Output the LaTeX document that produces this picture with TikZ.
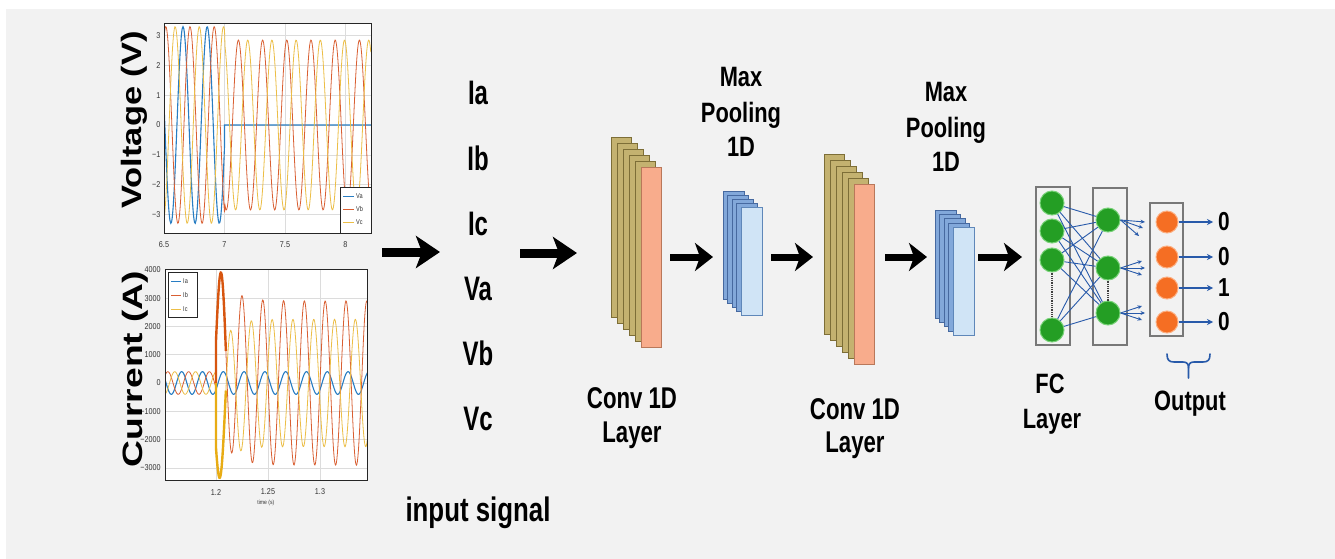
\documentclass[tikz,border=0pt]{standalone}
\usepackage{fontspec}
\setmainfont{Liberation Sans}
\usetikzlibrary{arrows.meta,calc}
\definecolor{bgc}{RGB}{242,242,242}
\definecolor{mblue}{RGB}{40,125,195}
\definecolor{mred}{RGB}{217,95,50}
\definecolor{myel}{RGB}{236,190,70}
\definecolor{gridc}{RGB}{220,220,220}
\definecolor{olivef}{RGB}{196,178,112}
\definecolor{olived}{RGB}{125,110,55}
\definecolor{salf}{RGB}{248,172,140}
\definecolor{sald}{RGB}{185,120,90}
\definecolor{poolb}{RGB}{130,168,218}
\definecolor{poolbd}{RGB}{70,105,160}
\definecolor{poolf}{RGB}{208,228,246}
\definecolor{poolfd}{RGB}{95,135,185}
\definecolor{fcg}{RGB}{36,158,36}
\definecolor{fcge}{RGB}{120,210,120}
\definecolor{outo}{RGB}{245,110,35}
\definecolor{outoe}{RGB}{252,175,130}
\definecolor{netb}{RGB}{40,90,170}
\definecolor{boxg}{RGB}{120,120,120}
\definecolor{spkred}{RGB}{215,85,15}
\definecolor{spkyel}{RGB}{232,172,20}
\newcommand{\cnd}[2][0.75]{\scalebox{#1}[1]{#2}}
\tikzset{
  sigtxt/.style={font=\bfseries\fontsize{34}{34}\selectfont, anchor=base, inner sep=0pt},
  laytxt/.style={font=\bfseries\fontsize{30}{30}\selectfont, anchor=base, inner sep=0pt},
  pooltxt/.style={font=\bfseries\fontsize{28}{28}\selectfont, anchor=base, inner sep=0pt},
  digtxt/.style={font=\bfseries\fontsize{26}{26}\selectfont, inner sep=0pt},
  axlbl/.style={font=\bfseries\fontsize{28}{28}\selectfont, rotate=90, anchor=base, inner sep=0pt},
  ticklbl/.style={font=\fontsize{8.5}{9}\selectfont, text=black!80, inner sep=1pt},
  leglbl/.style={font=\fontsize{7}{7}\selectfont, text=black!80, inner sep=0pt, anchor=west},
  bigarrow/.style={line width=9pt, -{Stealth[length=24pt,width=32pt,inset=6pt]}},
  midarrow/.style={line width=7pt, -{Stealth[length=18pt,width=28pt,inset=5pt]}},
  convback/.style={draw=olived, fill=olivef, line width=0.8pt, minimum width=20pt, minimum height=180pt, inner sep=0pt},
  convfront/.style={draw=sald, fill=salf, line width=0.8pt, minimum width=20pt, minimum height=180pt, inner sep=0pt},
  poolback/.style={draw=poolbd, fill=poolb, line width=0.8pt, minimum width=21pt, minimum height=108pt, inner sep=0pt},
  poolfront/.style={draw=poolfd, fill=poolf, line width=0.8pt, minimum width=21pt, minimum height=108pt, inner sep=0pt},
  fcbox/.style={draw=boxg, line width=1.6pt, inner sep=0pt},
  fcn/.style={circle, fill=fcg, draw=fcge, line width=1pt, minimum size=24pt, inner sep=0pt},
  outn/.style={circle, fill=outo, draw=outoe, line width=1pt, minimum size=22pt, inner sep=0pt},
  netline/.style={netb, line width=0.9pt},
  fanarrow/.style={netb, line width=0.9pt, -{Stealth[length=4.5pt,width=4pt]}},
  outarrow/.style={netb, line width=1.3pt, -{Stealth[length=6pt,width=6pt]}},
  dotline/.style={black!75, line width=1.3pt, dash pattern=on 0.9pt off 0.9pt},
  bracestyle/.style={netb, line width=1.6pt, line cap=round, line join=round},
}
\begin{document}
\begin{tikzpicture}[x=1pt,y=1pt]
\useasboundingbox (0,0) rectangle (1335,-559);
\fill[white] (0,0) rectangle (1335,-559);
\fill[bgc] (6,-9) rectangle (1335,-559);

% ================= Voltage plot =================
\begin{scope}[shift={(164pt,-125pt)}, x=121pt, y=29.8pt]
  \fill[white] (0,-3.624) rectangle (1.711,3.423);
  \foreach \t in {0.5,1,1.5} \draw[gridc, line width=0.6pt] (\t,-3.624) -- (\t,3.423);
  \foreach \v in {-3,-2,-1,0,1,2,3} \draw[gridc, line width=0.6pt] (0,\v) -- (1.711,\v);
  \begin{scope}
    \clip (0,-3.624) rectangle (1.711,3.423);
    \draw[mblue, line width=1.1pt] plot[domain=0:0.5, samples=90, smooth] (\x,{3.3*cos(1800*(\x-0.157))}) -- (0.5,0) -- (1.711,0);
    \draw[mred, line width=0.8pt] plot[domain=0:1.711, samples=360] (\x,{ifthenelse(\x<0.5,3.3,2.85)*cos(1800*(\x-0.015))});
    \draw[myel, line width=0.8pt] plot[domain=0:1.711, samples=360] (\x,{ifthenelse(\x<0.5,3.3,2.85)*cos(1800*(\x-0.092))});
  \end{scope}
  \draw[black!85, line width=0.7pt] (0,-3.624) rectangle (1.711,3.423);
  \foreach \v/\l [count=\i] in {3/3,2/2,1/1,0/0,-1/−1,-2/−2,-3/−3}
    \node[ticklbl, anchor=east] (vy\i) at (-0.02,\v) {\cnd[0.85]{\l}};
  \foreach \t/\l [count=\i] in {0/6.5,0.5/7,1/7.5,1.5/8}
    \node[ticklbl] (vx\i) at (\t,-4.0) {\cnd[0.85]{\l}};
\end{scope}
% voltage legend
\draw[black!85, fill=white, line width=0.6pt] (340,-187) rectangle (371,-233);
\draw[mblue, line width=1pt] (343,-196) -- (354,-196);
\draw[mred, line width=1pt] (343,-209) -- (354,-209);
\draw[myel, line width=1pt] (343,-222) -- (354,-222);
\node[leglbl] (lva) at (356,-196) {\cnd[0.8]{Va}};
\node[leglbl] (lvb) at (356,-209) {\cnd[0.8]{Vb}};
\node[leglbl] (lvc) at (356,-222) {\cnd[0.8]{Vc}};
\node[axlbl] (vlab) at (141,-120) {\scalebox{1.23}[1]{Voltage (V)}};

% ================= Current plot (time in ms from 1.2 s) =================
\begin{scope}[shift={(216pt,-383pt)}, x=1.04pt, y=0.0283pt]
  \fill[white] (-49,-3428) rectangle (146,4028);
  \foreach \t in {0,50,100} \draw[gridc, line width=0.6pt] (\t,-3428) -- (\t,4028);
  \foreach \v in {-3000,-2000,-1000,0,1000,2000,3000,4000} \draw[gridc, line width=0.6pt] (-49,\v) -- (146,\v);
  \begin{scope}
    \clip (-49,-3428) rectangle (146,4028);
    \draw[mblue, line width=1.1pt] plot[domain=-49:146, samples=320] (\x,{400*cos(18*(\x-7))});
    \draw[mred, line width=0.8pt] plot[domain=-49:0, samples=70] (\x,{400*cos(18*(\x-13.67))})
       -- plot[domain=0:146, samples=320] (\x,{2900*sin(18*\x)+1500*exp(-\x/12)});
    \draw[myel, line width=0.8pt] plot[domain=-49:0, samples=70] (\x,{400*cos(18*(\x-0.33))})
       -- plot[domain=0:146, samples=320] (\x,{-2250*sin(18*(\x+1))-1600*exp(-\x/10)});
    \draw[spkred, line width=2.4pt] (0,0) -- plot[domain=0:9.5, samples=30] (\x,{2900*sin(18*\x)+1500*exp(-\x/12)});
    \draw[spkyel, line width=2.4pt] (0,0) -- plot[domain=0:9.5, samples=30] (\x,{-2250*sin(18*(\x+1))-1600*exp(-\x/10)});
  \end{scope}
  \draw[black!85, line width=0.7pt] (-49,-3428) rectangle (146,4028);
  \foreach \v/\l [count=\i] in {4000/4000,3000/3000,2000/2000,1000/1000,0/0,-1000/−1000,-2000/−2000,-3000/−3000}
    \node[ticklbl, anchor=east] (cy\i) at (-52,\v) {\cnd[0.85]{\l}};
  \foreach \t/\l [count=\i] in {0/1.2,50/1.25,100/1.3}
    \node[ticklbl] (cx\i) at (\t,-3852) {\cnd[0.85]{\l}};
  \node[ticklbl, font=\fontsize{6}{6}\selectfont] (tlab) at (48,-4240) {\cnd[0.85]{time (s)}};
\end{scope}
% current legend
\draw[black!85, fill=white, line width=0.6pt] (168,-272) rectangle (197,-317);
\draw[mblue, line width=1pt] (171,-281) -- (181,-281);
\draw[mred, line width=1pt] (171,-295) -- (181,-295);
\draw[myel, line width=1pt] (171,-309) -- (181,-309);
\node[leglbl] (lia) at (183,-281) {\cnd[0.8]{Ia}};
\node[leglbl] (lib) at (183,-295) {\cnd[0.8]{Ib}};
\node[leglbl] (lic) at (183,-309) {\cnd[0.8]{Ic}};
\node[axlbl] (clab) at (142,-369) {\scalebox{1.33}[1]{Current (A)}};

% ================= input signal =================
\node[sigtxt] (sia) at (478,-105) {\cnd[0.705]{Ia}};
\node[sigtxt] (sib) at (478,-170) {\cnd[0.705]{Ib}};
\node[sigtxt] (sic) at (478,-235) {\cnd[0.705]{Ic}};
\node[sigtxt] (sva) at (478,-300) {\cnd[0.705]{Va}};
\node[sigtxt] (svb) at (478,-365) {\cnd[0.705]{Vb}};
\node[sigtxt] (svc) at (478,-430) {\cnd[0.705]{Vc}};
\node[sigtxt] (sig) at (478,-521) {\cnd[0.76]{input signal}};

% ================= layers =================
\foreach \k in {5,4,3,2,1} \node[convback] (c1b\k) at ({651-6*\k},{-257+6*\k}) {};
\node[convfront] (conv1) at (651,-257) {};
\foreach \k in {4,3,2,1} \node[poolback] (p1b\k) at ({751.5-4.5*\k},{-261+4*\k}) {};
\node[poolfront] (pool1) at (751.5,-261) {};
\foreach \k in {5,4,3,2,1} \node[convback] (c2b\k) at ({864-6*\k},{-274.5+6*\k}) {};
\node[convfront] (conv2) at (864,-274.5) {};
\foreach \k in {4,3,2,1} \node[poolback] (p2b\k) at ({963.5-4.4*\k},{-281.5+4.4*\k}) {};
\node[poolfront] (pool2) at (963.5,-281.5) {};

\node[laytxt] (cl1a) at (632,-408) {\cnd[0.74]{Conv 1D}};
\node[laytxt] (cl1b) at (632,-442) {\cnd[0.74]{Layer}};
\node[laytxt] (cl2a) at (855,-419) {\cnd[0.74]{Conv 1D}};
\node[laytxt] (cl2b) at (855,-452) {\cnd[0.74]{Layer}};
\node[pooltxt] (mp1a) at (741,-87) {\cnd[0.78]{Max}};
\node[pooltxt] (mp1b) at (741,-122) {\cnd[0.78]{Pooling}};
\node[pooltxt] (mp1c) at (741,-157) {\cnd[0.78]{1D}};
\node[pooltxt] (mp2a) at (946,-102) {\cnd[0.78]{Max}};
\node[pooltxt] (mp2b) at (946,-137) {\cnd[0.78]{Pooling}};
\node[pooltxt] (mp2c) at (946,-171) {\cnd[0.78]{1D}};

% ================= arrows =================
\coordinate (a1s) at (382,-252); \coordinate (a1e) at (440,-252);
\coordinate (a2s) at (520,-253); \coordinate (a2e) at (577,-253);
\coordinate (a3s) at (670,-257); \coordinate (a3e) at (713,-257);
\coordinate (a4s) at (771,-257); \coordinate (a4e) at (813,-257);
\coordinate (a5s) at (885,-257); \coordinate (a5e) at (927,-257);
\coordinate (a6s) at (978,-257); \coordinate (a6e) at (1022,-257);
\draw[bigarrow] (a1s) -- (a1e);
\draw[bigarrow] (a2s) -- (a2e);
\draw[midarrow] (a3s) -- (a3e);
\draw[midarrow] (a4s) -- (a4e);
\draw[midarrow] (a5s) -- (a5e);
\draw[midarrow] (a6s) -- (a6e);

% ================= FC layers =================
\node[fcbox, minimum width=34pt, minimum height=158pt] (box1) at (1053,-266) {};
\node[fcbox, minimum width=34pt, minimum height=157pt] (box2) at (1110,-266.5) {};
\node[fcbox, minimum width=33pt, minimum height=133pt] (box3) at (1166.5,-269.5) {};
\node[fcn] (f1) at (1052,-203) {};
\node[fcn] (f2) at (1052,-231) {};
\node[fcn] (f3) at (1052,-260) {};
\node[fcn] (f4) at (1052,-330) {};
\node[fcn] (g1) at (1108,-220) {};
\node[fcn] (g2) at (1108,-268) {};
\node[fcn] (g3) at (1108,-313) {};
\draw[dotline] (f3.south) -- (f4.north);
\draw[dotline] (g2.south) -- (g3.north);
\foreach \i in {1,2,3,4} \foreach \j in {1,2,3} \draw[netline] (f\i) -- (g\j);
% fans
\foreach \j/\yy in {2/-268,3/-313} {
  \coordinate (t\j a) at (1142,\yy+7);
  \coordinate (t\j b) at (1145,\yy);
  \coordinate (t\j c) at (1142,\yy-7);
  \draw[fanarrow] (g\j.east) -- (t\j a);
  \draw[fanarrow] (g\j.east) -- (t\j b);
  \draw[fanarrow] (g\j.east) -- (t\j c);
}
\coordinate (t1a) at (1145,-222); \coordinate (t1b) at (1143,-228); \coordinate (t1c) at (1139,-236);
\draw[fanarrow] (g1.east) -- (t1a);
\draw[fanarrow] (g1.east) -- (t1b);
\draw[fanarrow] (g1.east) -- (t1c);
% output
\node[outn] (o1) at (1167,-222) {};
\node[outn] (o2) at (1167,-257) {};
\node[outn] (o3) at (1167,-288) {};
\node[outn] (o4) at (1167,-322) {};
\foreach \i/\yy/\d in {1/-222/0,2/-257/0,3/-288/1,4/-322/0} {
  \coordinate (e\i) at (1213,\yy);
  \draw[outarrow] (o\i.east) -- (e\i);
  \node[digtxt] (d\i) at (1224,\yy) {\cnd[0.8]{\d}};
}
% brace under output
\coordinate (brl) at (1167,-354);
\coordinate (brr) at (1210,-354);
\coordinate (brt) at (1188.5,-378);
\draw[bracestyle] (brl) .. controls (1167,-360) and (1169,-362) .. (1174,-362) -- (1183,-362)
   .. controls (1187,-362) and (1188.5,-364) .. (1188.5,-368) -- (brt);
\draw[bracestyle] (brr) .. controls (1210,-360) and (1208,-362) .. (1203,-362) -- (1194,-362)
   .. controls (1190,-362) and (1188.5,-364) .. (1188.5,-368);
\node[pooltxt] (fca) at (1050,-393) {\cnd[0.78]{FC}};
\node[pooltxt] (fcb) at (1052,-428) {\cnd[0.78]{Layer}};
\node[pooltxt] (outl) at (1190,-410) {\cnd[0.78]{Output}};
\end{tikzpicture}
\end{document}
